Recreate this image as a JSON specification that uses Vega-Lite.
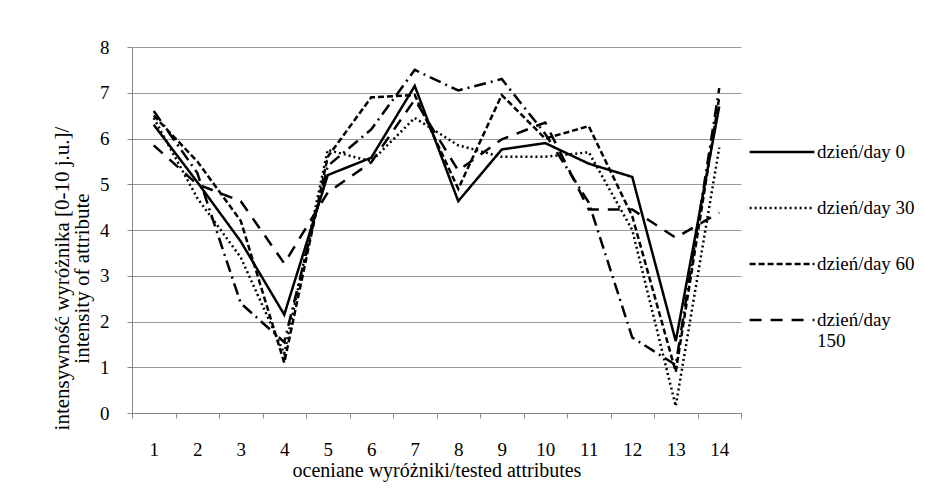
{
  "$schema": "https://vega.github.io/schema/vega-lite/v6.json",
  "autosize": "none",
  "width": 609,
  "height": 366,
  "padding": {"left": 132, "top": 47, "right": 184, "bottom": 86},
  "background": "white",
  "config": {
    "font": "Liberation Serif, DejaVu Serif, serif",
    "view": {"stroke": null},
    "axis": {"labelFont": "Liberation Serif, DejaVu Serif, serif", "titleFont": "Liberation Serif, DejaVu Serif, serif", "labelColor": "#000", "titleColor": "#000", "titleFontWeight": "normal"},
    "legend": {"labelFont": "Liberation Serif, DejaVu Serif, serif", "labelColor": "#000"}
  },
  "data": {"values": [
    {"attr": 1, "series": "dzień/day 0", "value": 6.3},
    {"attr": 2, "series": "dzień/day 0", "value": 5.05},
    {"attr": 3, "series": "dzień/day 0", "value": 3.75},
    {"attr": 4, "series": "dzień/day 0", "value": 2.15},
    {"attr": 5, "series": "dzień/day 0", "value": 5.2},
    {"attr": 6, "series": "dzień/day 0", "value": 5.58},
    {"attr": 7, "series": "dzień/day 0", "value": 7.15},
    {"attr": 8, "series": "dzień/day 0", "value": 4.63},
    {"attr": 9, "series": "dzień/day 0", "value": 5.76},
    {"attr": 10, "series": "dzień/day 0", "value": 5.9},
    {"attr": 11, "series": "dzień/day 0", "value": 5.45},
    {"attr": 12, "series": "dzień/day 0", "value": 5.16},
    {"attr": 13, "series": "dzień/day 0", "value": 1.57},
    {"attr": 14, "series": "dzień/day 0", "value": 6.7},
    {"attr": 1, "series": "dzień/day 30", "value": 6.45},
    {"attr": 2, "series": "dzień/day 30", "value": 4.7},
    {"attr": 3, "series": "dzień/day 30", "value": 3.4},
    {"attr": 4, "series": "dzień/day 30", "value": 1.3},
    {"attr": 5, "series": "dzień/day 30", "value": 5.75},
    {"attr": 6, "series": "dzień/day 30", "value": 5.5},
    {"attr": 7, "series": "dzień/day 30", "value": 6.45},
    {"attr": 8, "series": "dzień/day 30", "value": 5.85},
    {"attr": 9, "series": "dzień/day 30", "value": 5.6},
    {"attr": 10, "series": "dzień/day 30", "value": 5.6},
    {"attr": 11, "series": "dzień/day 30", "value": 5.7},
    {"attr": 12, "series": "dzień/day 30", "value": 4.0},
    {"attr": 13, "series": "dzień/day 30", "value": 0.15},
    {"attr": 14, "series": "dzień/day 30", "value": 5.8},
    {"attr": 1, "series": "dzień/day 60", "value": 6.5},
    {"attr": 2, "series": "dzień/day 60", "value": 5.5},
    {"attr": 3, "series": "dzień/day 60", "value": 4.2},
    {"attr": 4, "series": "dzień/day 60", "value": 1.1},
    {"attr": 5, "series": "dzień/day 60", "value": 5.6},
    {"attr": 6, "series": "dzień/day 60", "value": 6.9},
    {"attr": 7, "series": "dzień/day 60", "value": 6.95},
    {"attr": 8, "series": "dzień/day 60", "value": 4.9},
    {"attr": 9, "series": "dzień/day 60", "value": 6.95},
    {"attr": 10, "series": "dzień/day 60", "value": 6.0},
    {"attr": 11, "series": "dzień/day 60", "value": 6.27},
    {"attr": 12, "series": "dzień/day 60", "value": 4.3},
    {"attr": 13, "series": "dzień/day 60", "value": 0.9},
    {"attr": 14, "series": "dzień/day 60", "value": 6.9},
    {"attr": 1, "series": "dzień/day 150", "value": 5.85},
    {"attr": 2, "series": "dzień/day 150", "value": 5.0},
    {"attr": 3, "series": "dzień/day 150", "value": 4.63},
    {"attr": 4, "series": "dzień/day 150", "value": 3.27},
    {"attr": 5, "series": "dzień/day 150", "value": 4.82},
    {"attr": 6, "series": "dzień/day 150", "value": 5.48},
    {"attr": 7, "series": "dzień/day 150", "value": 6.85},
    {"attr": 8, "series": "dzień/day 150", "value": 5.3},
    {"attr": 9, "series": "dzień/day 150", "value": 5.98},
    {"attr": 10, "series": "dzień/day 150", "value": 6.35},
    {"attr": 11, "series": "dzień/day 150", "value": 4.45},
    {"attr": 12, "series": "dzień/day 150", "value": 4.45},
    {"attr": 13, "series": "dzień/day 150", "value": 3.83},
    {"attr": 14, "series": "dzień/day 150", "value": 4.38},
    {"attr": 1, "series": "dzień/day 180", "value": 6.6},
    {"attr": 2, "series": "dzień/day 180", "value": 5.25},
    {"attr": 3, "series": "dzień/day 180", "value": 2.4},
    {"attr": 4, "series": "dzień/day 180", "value": 1.55},
    {"attr": 5, "series": "dzień/day 180", "value": 5.4},
    {"attr": 6, "series": "dzień/day 180", "value": 6.2},
    {"attr": 7, "series": "dzień/day 180", "value": 7.5},
    {"attr": 8, "series": "dzień/day 180", "value": 7.05},
    {"attr": 9, "series": "dzień/day 180", "value": 7.3},
    {"attr": 10, "series": "dzień/day 180", "value": 6.1},
    {"attr": 11, "series": "dzień/day 180", "value": 4.6},
    {"attr": 12, "series": "dzień/day 180", "value": 1.65},
    {"attr": 13, "series": "dzień/day 180", "value": 1.05},
    {"attr": 14, "series": "dzień/day 180", "value": 7.1}
  ]},
  "mark": {"type": "line", "color": "#000", "strokeWidth": 2.5},
  "encoding": {
    "x": {
      "field": "attr", "type": "quantitative",
      "scale": {"domain": [0.5, 14.5], "nice": false, "zero": false},
      "axis": {
        "values": [0.5, 1, 1.5, 2, 2.5, 3, 3.5, 4, 4.5, 5, 5.5, 6, 6.5, 7, 7.5, 8, 8.5, 9, 9.5, 10, 10.5, 11, 11.5, 12, 12.5, 13, 13.5, 14, 14.5],
        "labelExpr": "datum.value % 1 === 0 ? '' + datum.value : ''",
        "labelOverlap": false,
        "labelFlush": false,
        "tickOpacity": {"condition": {"test": "datum.value % 1 === 0", "value": 0}, "value": 1},
        "tickSize": 5,
        "tickColor": "#888",
        "domainColor": "#888",
        "grid": false,
        "labelFontSize": 19,
        "labelPadding": 22,
        "labelBaseline": "top",
        "title": "oceniane wyróżniki/tested attributes",
        "titleFontSize": 20,
        "titlePadding": 1
      }
    },
    "y": {
      "field": "value", "type": "quantitative",
      "scale": {"domain": [0, 8], "nice": false},
      "axis": {
        "values": [0, 1, 2, 3, 4, 5, 6, 7, 8],
        "grid": true,
        "gridColor": "#999",
        "tickColor": "#888",
        "domainColor": "#888",
        "tickSize": 5,
        "labelFontSize": 19,
        "labelPadding": 18,
        "title": ["intensywność wyróżnika [0-10 j.u.]/", "intensity of attribute"],
        "titleFontSize": 21,
        "titleLineHeight": 20,
        "titleAngle": -90,
        "titleAlign": "center",
        "titleBaseline": "middle",
        "titleX": -70,
        "titleY": 231
      }
    },
    "strokeDash": {
      "field": "series", "type": "nominal",
      "scale": {
        "domain": ["dzień/day 0", "dzień/day 30", "dzień/day 60", "dzień/day 150", "dzień/day 180"],
        "range": [[1, 0], [2, 3], [6, 3], [12, 9], [12, 5, 2, 5]]
      },
      "legend": {
        "values": ["dzień/day 0", "dzień/day 30", "dzień/day 60", "dzień/day 150"],
        "title": null,
        "orient": "none",
        "legendX": 616,
        "legendY": 71,
        "symbolType": "stroke",
        "symbolSize": 4200,
        "symbolStrokeWidth": 2.5,
        "symbolStrokeColor": "#000",
        "labelFontSize": 19,
        "labelOffset": 1,
        "labelLimit": 300,
        "rowPadding": 12,
        "labelExpr": "datum.label === 'dzień/day 150' ? ['dzień/day', '150'] : datum.label"
      }
    }
  }
}
